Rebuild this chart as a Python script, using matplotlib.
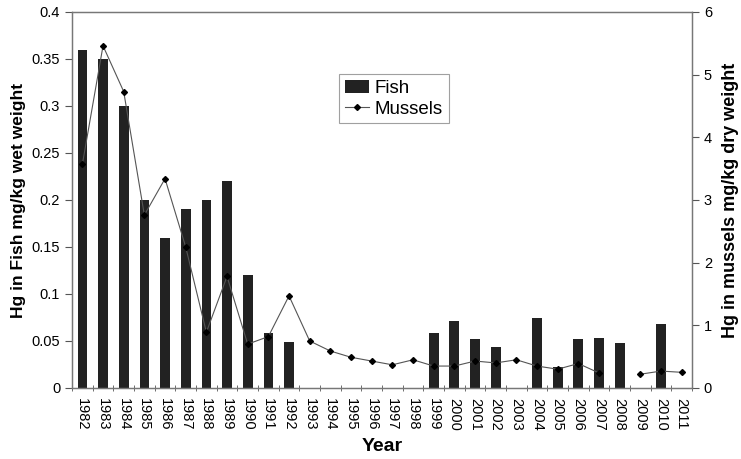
import numpy as np
import matplotlib
matplotlib.use("Agg")
import matplotlib.pyplot as plt
from matplotlib.ticker import FixedLocator, NullFormatter

plt.rcParams["font.family"] = ["Liberation Sans", "DejaVu Sans"]

years = list(range(1982, 2012))

# Hg in fish, mg/kg wet weight (None = no sample)
fish = [0.36, 0.35, 0.30, 0.20, 0.16, 0.19, 0.20, 0.22, 0.12, 0.058,
        0.049, None, None, None, None, None, None, 0.059, 0.071, 0.052,
        0.044, None, 0.074, 0.022, 0.052, 0.053, 0.048, None, 0.068, None]

# Hg in mussels, mg/kg dry weight (None = no sample)
mussels = [3.57, 5.46, 4.73, 2.76, 3.34, 2.25, 0.89, 1.78, 0.70, 0.82,
           1.47, 0.75, 0.59, 0.49, 0.43, 0.37, 0.45, 0.35, 0.35, 0.43,
           0.40, 0.45, 0.35, 0.30, 0.39, 0.24, None, 0.22, 0.27, 0.25]

x = np.arange(len(years))
fish_vals = np.array([np.nan if v is None else v for v in fish])
mussel_vals = np.array([np.nan if v is None else v for v in mussels])

fig = plt.figure(figsize=(7.41, 4.59), dpi=100)
ax = fig.add_axes([0.0972, 0.1547, 0.8367, 0.8192])
ax2 = ax.twinx()

bars = ax.bar(x, fish_vals, width=0.47, color="#222222", label="Fish")
line, = ax2.plot(x, mussel_vals, color="#555555", linewidth=0.8,
                 marker="D", markersize=3, markerfacecolor="black",
                 markeredgecolor="black", label="Mussels")

ax.set_xlim(-0.5, len(years) - 0.5)
ax.set_ylim(0, 0.4)
ax2.set_ylim(0, 6)
ax.set_yticks(np.arange(0, 0.41, 0.05))
ax.set_yticklabels(["0", "0.05", "0.1", "0.15", "0.2", "0.25", "0.3", "0.35", "0.4"])
ax2.set_yticks(range(0, 7))

# year labels under each bar, tick marks on the category boundaries
ax.set_xticks(x)
ax.set_xticklabels([str(y) for y in years], rotation=270, fontsize=10.5)
ax.tick_params(axis="x", which="major", length=0, pad=7)
ax.xaxis.set_minor_locator(FixedLocator(np.arange(-0.5, len(years), 1.0)))
ax.xaxis.set_minor_formatter(NullFormatter())
ax.tick_params(axis="x", which="minor", length=5, direction="inout", color="#555555")
ax.tick_params(axis="y", length=5, labelsize=10.5, color="#555555")
ax2.tick_params(axis="y", length=5, labelsize=10.5, color="#555555")

for a in (ax, ax2):
    for s in a.spines.values():
        s.set_color("#777777")
        s.set_linewidth(0.9)

ax.set_xlabel("Year", fontsize=14, fontweight="bold", labelpad=5)
ax.set_ylabel("Hg in Fish mg/kg wet weight", fontsize=12.5, fontweight="bold", labelpad=4)
ax2.set_ylabel("Hg in mussels mg/kg dry weight", fontsize=13, fontweight="bold", labelpad=7)

leg = ax.legend([bars, line], ["Fish", "Mussels"], loc="upper left",
                bbox_to_anchor=(0.431, 0.835), borderaxespad=0, fontsize=13.5,
                frameon=True, fancybox=False, edgecolor="#888888", borderpad=0.3,
                labelspacing=0.2, handlelength=1.3, handletextpad=0.3)
leg.get_frame().set_linewidth(0.8)

fig.savefig("out.png", dpi=100)
